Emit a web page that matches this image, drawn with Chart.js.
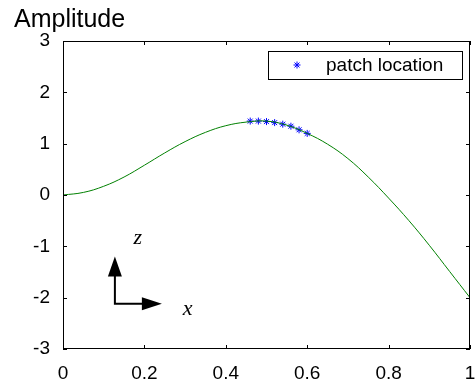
<!DOCTYPE html>
<html>
<head>
<meta charset="utf-8">
<script src="https://cdn.jsdelivr.net/npm/chart.js@4"></script>
<style>
  html, body { margin: 0; padding: 0; background: #fff; }
  canvas { display: block; }
</style>
</head>
<body>
<canvas id="chart" width="475" height="379"></canvas>
<script>
// mode shape
const xValues = [0, 0.05, 0.1, 0.15, 0.2, 0.25, 0.3, 0.35, 0.4, 0.45, 0.5,
                 0.55, 0.6, 0.65, 0.7, 0.75, 0.8, 0.85, 0.9, 0.95, 1];
const amplitude = [0, 0.05, 0.17, 0.35, 0.58, 0.82, 1.04, 1.22, 1.35, 1.42, 1.44,
                   1.36, 1.20, 0.99, 0.71, 0.35, -0.06, -0.50, -0.98, -1.49, -2.0];

// patch locations
const patchX = [0.46, 0.48, 0.50, 0.52, 0.54, 0.56, 0.58, 0.60];
const patchY = [1.44, 1.44, 1.43, 1.41, 1.38, 1.34, 1.27, 1.20];

const xTicks = [0, 0.2, 0.4, 0.6, 0.8, 1];
const yTicks = [-3, -2, -1, 0, 1, 2, 3];

const FONT = 'Arial, "Liberation Sans", Helvetica, sans-serif';

// 테두리, 안쪽 눈금, 화살표, 범례, 제목
const decorPlugin = {
  id: 'decor',
  afterDraw(chart) {
    const ctx = chart.ctx;
    const a = chart.chartArea;
    const xs = chart.scales.x, ys = chart.scales.y;
    ctx.save();

    // box
    ctx.strokeStyle = '#000';
    ctx.lineWidth = 1;
    ctx.strokeRect(a.left + 0.5, a.top + 0.5, a.right - a.left - 1, a.bottom - a.top - 1);

    // inward ticks
    const tl = 4;
    ctx.beginPath();
    xTicks.forEach(v => {
      const px = Math.round(xs.getPixelForValue(v)) + 0.5;
      ctx.moveTo(px, a.bottom); ctx.lineTo(px, a.bottom - tl);
      ctx.moveTo(px, a.top); ctx.lineTo(px, a.top + tl);
    });
    yTicks.forEach(v => {
      const py = Math.round(ys.getPixelForValue(v)) + 0.5;
      ctx.moveTo(a.left, py); ctx.lineTo(a.left + tl, py);
      ctx.moveTo(a.right, py); ctx.lineTo(a.right - tl, py);
    });
    ctx.stroke();

    // coordinate arrows
    const ox = xs.getPixelForValue(0.1275), oy = ys.getPixelForValue(-2.12);
    const tipY = ys.getPixelForValue(-1.20), tipX = xs.getPixelForValue(0.243);
    ctx.lineWidth = 2;
    ctx.beginPath();
    ctx.moveTo(ox, tipY + 18); ctx.lineTo(ox, oy); ctx.lineTo(tipX - 18, oy);
    ctx.stroke();
    ctx.fillStyle = '#000';
    ctx.beginPath();
    ctx.moveTo(ox, tipY); ctx.lineTo(ox - 7, tipY + 20); ctx.lineTo(ox + 7, tipY + 20);
    ctx.closePath(); ctx.fill();
    ctx.beginPath();
    ctx.moveTo(tipX, oy); ctx.lineTo(tipX - 20, oy - 6.5); ctx.lineTo(tipX - 20, oy + 6.5);
    ctx.closePath(); ctx.fill();

    ctx.font = 'italic 22px "Liberation Serif", "Times New Roman", serif';
    ctx.textAlign = 'center';
    ctx.textBaseline = 'alphabetic';
    ctx.fillText('z', xs.getPixelForValue(0.184), ys.getPixelForValue(-0.95));
    ctx.fillText('x', xs.getPixelForValue(0.306), ys.getPixelForValue(-2.34));

    // legend
    const bw = 194, bh = 28;
    const bx = a.right - 8 - bw, by = a.top + 10;
    ctx.fillStyle = '#fff';
    ctx.fillRect(bx, by, bw, bh);
    ctx.lineWidth = 1;
    ctx.strokeStyle = '#000';
    ctx.strokeRect(bx + 0.5, by + 0.5, bw, bh);
    ctx.strokeStyle = '#0000ff';
    ctx.fillStyle = '#0000ff';
    Chart.helpers.drawPoint(ctx, {
      pointStyle: 'star', radius: 3.5, borderWidth: 1
    }, bx + 29, by + bh / 2);
    ctx.fillStyle = '#000';
    ctx.font = '19px ' + FONT;
    ctx.textAlign = 'left';
    ctx.textBaseline = 'middle';
    ctx.fillText(chart.data.datasets[1].label, bx + 58, by + bh / 2 + 1);

    // title
    ctx.font = '25px ' + FONT;
    ctx.textBaseline = 'alphabetic';
    ctx.fillText('Amplitude', 14, 27);

    ctx.restore();
  }
};

const curveData = xValues.map((x, i) => ({ x: x, y: amplitude[i] }));
const patchData = patchX.map((x, i) => ({ x: x, y: patchY[i] }));

new Chart(document.getElementById('chart'), {
  type: 'line',
  data: {
    datasets: [
      {
        label: 'mode shape',
        data: curveData,
        borderColor: '#008000',
        borderWidth: 1,
        pointRadius: 0,
        tension: 0.4,
        fill: false
      },
      {
        label: 'patch location',
        data: patchData,
        showLine: false,
        pointStyle: 'star',
        pointRadius: 3.5,
        borderColor: '#0000ff',
        backgroundColor: '#0000ff',
        pointBorderWidth: 1
      }
    ]
  },
  options: {
    responsive: false,
    animation: false,
    layout: { padding: { top: 41, right: 4, left: 0, bottom: 0 } },
    scales: {
      x: {
        type: 'linear',
        min: 0, max: 1,
        afterBuildTicks: s => { s.ticks = xTicks.map(v => ({ value: v })); },
        afterFit: s => { s.height = 30; s.paddingLeft = 0; s.paddingRight = 0; },
        grid: { display: false },
        border: { display: false },
        ticks: {
          color: '#000', padding: 5, maxRotation: 0,
          font: { family: FONT, size: 19 },
          callback: v => String(v)
        }
      },
      y: {
        min: -3, max: 3,
        afterBuildTicks: s => { s.ticks = yTicks.map(v => ({ value: v })); },
        afterFit: s => { s.width = 63; },
        grid: { display: false },
        border: { display: false },
        ticks: {
          color: '#000', padding: 5,
          font: { family: FONT, size: 19 },
          callback: v => String(v)
        }
      }
    },
    plugins: {
      legend: { display: false },
      tooltip: { enabled: false }
    }
  },
  plugins: [decorPlugin]
});
</script>
</body>
</html>
